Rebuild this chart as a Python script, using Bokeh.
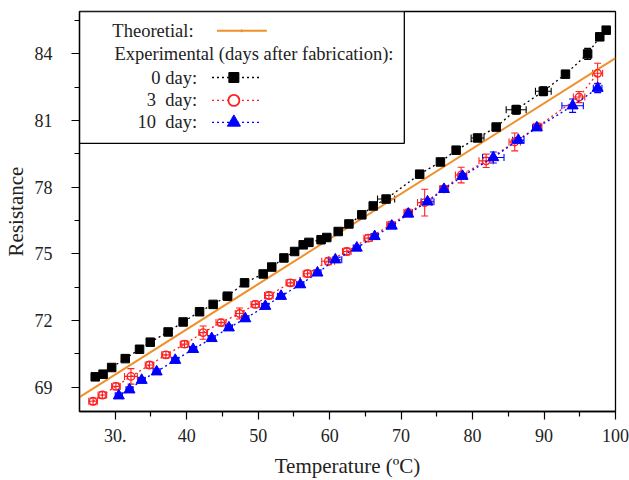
from bokeh.plotting import figure
from bokeh.models import (ColumnDataSource, Whisker, TeeHead, FixedTicker,
                          BoxAnnotation, Range1d)
from bokeh.core.properties import value
from bokeh.embed import file_html
from bokeh.resources import INLINE

# ---------------- data ----------------
x_ticks = [30, 40, 50, 60, 70, 80, 90, 100]
x_tick_labels = {30: "30."}
y_ticks = [69, 72, 75, 78, 81, 84]

t_theory = [25, 100]
r_theory = [68.55, 83.8]

t_day0 = [27.2, 28.3, 29.5, 31.4, 33.4, 34.9, 37.4, 39.5, 41.8, 43.7, 45.7, 48.1,
          50.7, 51.9, 53.6, 55.1, 56.3, 57.1, 58.8, 59.6, 61.2, 62.7, 64.5, 66.1,
          67.9, 72.6, 75.5, 77.7, 80.7, 83.3, 86.1, 89.9, 93.0, 96.1, 97.8, 98.7]
r_day0 = [69.46, 69.58, 69.88, 70.28, 70.70, 71.02, 71.48, 71.93, 72.39, 72.72, 73.09, 73.69,
          74.09, 74.40, 74.81, 75.10, 75.40, 75.51, 75.63, 75.73, 76.00, 76.34, 76.75, 77.15,
          77.46, 78.58, 79.13, 79.66, 80.21, 80.70, 81.48, 82.31, 83.08, 83.99, 84.76, 85.06]
xerr_day0 = [0.4, 0.4, 0.4, 0.5, 0.4, 0.4, 0.4, 0.4, 0.4, 0.4, 0.6, 0.4,
             0.4, 0.4, 0.4, 0.4, 0.4, 0.5, 0.4, 0.4, 0.4, 0.4, 0.4, 0.4,
             1.2, 0.5, 0.4, 0.4, 0.9, 0.5, 1.4, 1.1, 0.3, 0.4, 0.3, 0.3]
yerr_day0 = [0.12] * 30 + [0.2, 0.2, 0.12, 0.25, 0.12, 0.12]

t_day3 = [26.9, 28.2, 30.1, 32.2, 34.8, 37.1, 39.7, 42.3, 44.8, 47.4, 49.6, 51.5,
          54.5, 56.9, 59.8, 62.4, 65.4, 68.6, 71.0, 73.3, 76.0, 78.4, 81.9, 85.9,
          89.1, 94.9, 97.5]
r_day3 = [68.36, 68.64, 69.03, 69.48, 69.99, 70.45, 70.93, 71.45, 71.90, 72.31, 72.72, 73.12,
          73.69, 74.10, 74.66, 75.10, 75.70, 76.30, 76.85, 77.30, 77.92, 78.54, 79.18, 80.03,
          80.72, 82.05, 83.12]
xerr_day3 = [0.6, 0.6, 0.6, 0.9, 0.6, 0.6, 0.6, 0.6, 0.7, 0.6, 0.6, 0.6,
             0.6, 0.6, 0.9, 0.6, 0.6, 0.6, 0.6, 1.0, 0.6, 0.8, 1.0, 0.8,
             0.6, 0.8, 0.7]
yerr_day3 = [0.15, 0.15, 0.15, 0.35, 0.15, 0.15, 0.15, 0.3, 0.15, 0.25, 0.15, 0.15,
             0.15, 0.15, 0.15, 0.15, 0.15, 0.15, 0.15, 0.6, 0.15, 0.35, 0.3, 0.4,
             0.15, 0.25, 0.45]

t_day10 = [30.5, 32.0, 33.7, 35.8, 38.4, 40.9, 43.5, 45.9, 48.2, 51.0, 53.2, 55.9,
           58.3, 60.8, 63.8, 66.3, 68.7, 71.0, 73.7, 76.0, 78.6, 82.9, 86.4, 89.0,
           94.0, 97.5]
r_day10 = [68.61, 68.88, 69.31, 69.69, 70.21, 70.70, 71.19, 71.67, 72.08, 72.64, 73.09, 73.61,
           74.14, 74.73, 75.26, 75.78, 76.25, 76.79, 77.34, 77.90, 78.49, 79.33, 80.11, 80.67,
           81.66, 82.45]
xerr_day10 = [0.5, 0.5, 0.5, 0.5, 0.5, 0.5, 0.5, 0.5, 0.5, 0.5, 0.5, 0.5,
              0.5, 0.9, 0.5, 0.5, 0.5, 0.5, 0.9, 0.5, 0.5, 1.5, 0.8, 0.6,
              1.5, 0.6]
yerr_day10 = [0.12] * 21 + [0.25, 0.12, 0.12, 0.3, 0.2]

# ---------------- style ----------------
FONT = "Liberation Serif"
ORANGE = "#f0902a"
RED = "#ff2020"
BLUE = "#0000ff"
TXT = "#222222"

p = figure(width=629, height=480, output_backend="svg", toolbar_location=None,
           x_range=Range1d(25, 100), y_range=Range1d(67.9, 85.9),
           min_border_left=77, min_border_right=14, min_border_top=11,
           min_border_bottom=68)
p.background_fill_color = "white"
p.border_fill_color = "white"
p.outline_line_color = "black"
p.outline_line_width = 1.3
p.xgrid.visible = False
p.ygrid.visible = False

p.xaxis.ticker = FixedTicker(ticks=x_ticks, minor_ticks=[35, 45, 55, 65, 75, 85, 95])
p.xaxis.major_label_overrides = x_tick_labels
p.yaxis.ticker = FixedTicker(ticks=y_ticks, minor_ticks=[70.5, 73.5, 76.5, 79.5, 82.5, 85.5])
for ax in (p.xaxis[0], p.yaxis[0]):
    ax.axis_line_color = "black"
    ax.axis_line_width = 1.3
    ax.major_tick_line_color = "black"
    ax.minor_tick_line_color = "black"
    ax.major_tick_line_width = 1.2
    ax.minor_tick_line_width = 1.2
    ax.major_tick_in = 0
    ax.minor_tick_in = 0
    ax.major_tick_out = 8
    ax.minor_tick_out = 5
    ax.major_label_text_font = FONT
    ax.major_label_text_font_size = "18px"
    ax.major_label_text_color = TXT
    ax.axis_label_text_font = FONT
    ax.axis_label_text_font_size = "21px"
    ax.axis_label_text_font_style = "normal"
    ax.axis_label_text_color = TXT
p.xaxis.axis_label = "Temperature (ºC)"
p.yaxis.axis_label = "Resistance"
p.xaxis.major_label_standoff = 9
p.xaxis.axis_label_standoff = 9
p.yaxis.major_label_standoff = 19
p.yaxis.axis_label_standoff = 4

# legend frame (under the data layer)
p.add_layout(BoxAnnotation(left=25, right=70.45, bottom=79.97, top=85.9,
                           fill_color="white", fill_alpha=1.0,
                           line_color="black", line_alpha=1.0, line_width=1.3,
                           level="underlay"))

# theoretical line
p.line(t_theory, r_theory, line_color=ORANGE, line_width=2)


def series(t, r, xe, ye, color, marker, size, fill):
    src = ColumnDataSource(dict(
        t=t, r=r,
        xl=[a - b for a, b in zip(t, xe)], xu=[a + b for a, b in zip(t, xe)],
        yl=[a - b for a, b in zip(r, ye)], yu=[a + b for a, b in zip(r, ye)]))
    p.line("t", "r", source=src, line_color=color, line_width=1.3, line_dash="2 3")
    p.add_layout(Whisker(source=src, base="t", lower="yl", upper="yu", dimension="height",
                         line_color=color, line_width=1.1,
                         upper_head=TeeHead(size=7, line_color=color, line_width=1.1),
                         lower_head=TeeHead(size=7, line_color=color, line_width=1.1)))
    p.add_layout(Whisker(source=src, base="r", lower="xl", upper="xu", dimension="width",
                         line_color=color, line_width=1.1,
                         upper_head=TeeHead(size=7, line_color=color, line_width=1.1),
                         lower_head=TeeHead(size=7, line_color=color, line_width=1.1)))
    if fill:
        p.scatter("t", "r", source=src, marker=marker, size=size,
                  fill_color=color, line_color=color)
    else:
        p.scatter("t", "r", source=src, marker=marker, size=size,
                  fill_alpha=0, line_color=color, line_width=1.4)


series(t_day0, r_day0, xerr_day0, yerr_day0, "black", "square", 8.5, True)
series(t_day3, r_day3, xerr_day3, yerr_day3, RED, "circle", 7.5, False)
series(t_day10, r_day10, xerr_day10, yerr_day10, BLUE, "triangle", 11, True)

# ---------------- legend content (drawn by hand) ----------------
tf = value(FONT)
p.text(x=[29.6], y=[85.03], text=["Theoretial:"], text_font=tf, text_font_size="18.5px",
       text_baseline="middle", text_align="left", text_color=TXT)
p.line([44.24, 51.21], [85.03, 85.03], line_color=ORANGE, line_width=2)
p.scatter([47.7], [85.03], marker="circle", size=2, color=ORANGE)
p.text(x=[29.9], y=[84.0], text=["Experimental (days after fabrication):"], text_font=tf,
       text_font_size="18.5px", text_baseline="middle", text_align="left", text_color=TXT)
rows = [("0 day:", 82.93, "black", "square", 10, True),
        ("3 \u00a0day:", 81.90, RED, "circle", 11, False),
        ("10 \u00a0day:", 80.91, BLUE, "triangle", 13, True)]
for lab, yy, col, mk, sz, fill in rows:
    p.text(x=[41.45], y=[yy], text=[lab], text_font=tf, text_font_size="18.5px",
           text_baseline="middle", text_align="right", text_color=TXT)
    p.line([43.54, 50.23], [yy, yy], line_color=col, line_width=1.3, line_dash="2 3")
    if fill:
        p.scatter([46.6], [yy], marker=mk, size=sz, fill_color=col, line_color=col)
    else:
        p.scatter([46.6], [yy], marker=mk, size=sz, fill_color="white", line_color=col,
                  line_width=1.8)

open("out.html", "w").write(file_html(p, INLINE))
